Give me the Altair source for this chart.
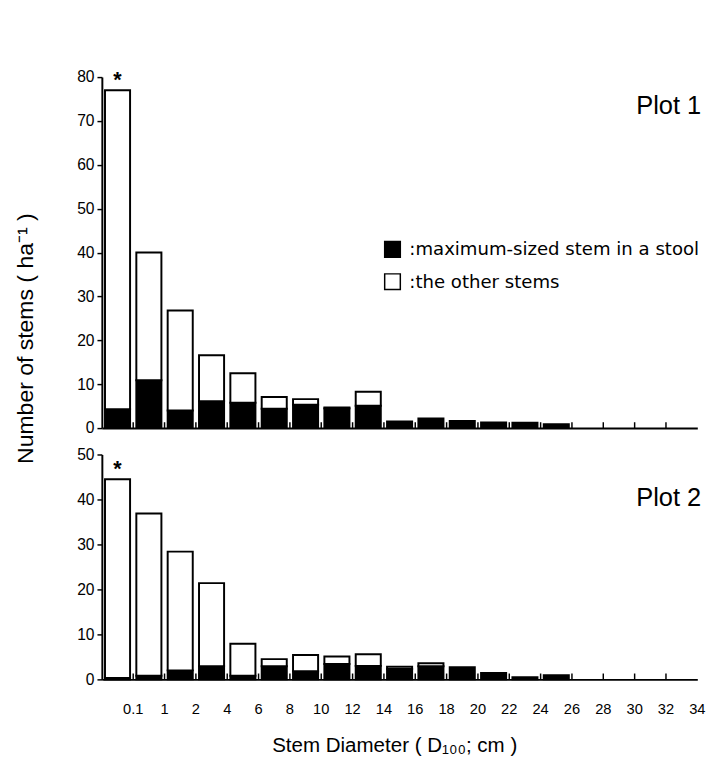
import altair as alt
import pandas as pd

# ---- data ----
class_labels = ["0.1", "1", "2", "4", "6", "8", "10", "12", "14", "16",
                "18", "20", "22", "24", "26", "28", "30", "32", "34"]

p1_black = [4.3, 10.9, 4.0, 6.1, 5.8, 4.4, 5.3, 4.5, 5.1, 1.5,
            2.2, 1.6, 1.3, 1.2, 0.9, 0, 0, 0, 0]
p1_total = [77.0, 40.0, 26.8, 16.6, 12.5, 7.1, 6.6, 4.7, 8.3, 1.5,
            2.2, 1.6, 1.3, 1.2, 0.9, 0, 0, 0, 0]

p2_black = [0.3, 0.8, 2.0, 2.9, 0.8, 2.9, 1.8, 3.4, 3.0, 2.3,
            2.9, 2.7, 1.4, 0.5, 0.9, 0, 0, 0, 0]
p2_total = [44.5, 36.9, 28.4, 21.4, 7.9, 4.5, 5.4, 5.1, 5.6, 2.8,
            3.6, 2.7, 1.4, 0.5, 0.9, 0, 0, 0, 0]

type_names = [":maximum-sized stem in a stool", ":the other stems"]

FONT = "Liberation Sans, Arial, sans-serif"
W = 609
H1 = 359
H2 = 230
N = len(class_labels)


def build_rows(black, total):
    rows = []
    for i, (b, t) in enumerate(zip(black, total)):
        if b > 0:
            rows.append({"x0": i + 0.1, "x1": i + 0.9, "y0": 0, "y1": b,
                         "type": type_names[0]})
        if t - b > 0.05:
            rows.append({"x0": i + 0.1, "x1": i + 0.9, "y0": b, "y1": t,
                         "type": type_names[1]})
    return pd.DataFrame(rows)


bounds_df = pd.DataFrame({"b": list(range(1, N))})
labels_df = pd.DataFrame({"b": list(range(1, N + 1)), "lab": class_labels})


def panel(black, total, ymax, height, plot_name, name_y, show_x, show_legend, ytitle):
    df = build_rows(black, total)
    xscale = alt.Scale(domain=[0, N], nice=False, zero=False)
    yscale = alt.Scale(domain=[0, ymax], nice=False)
    if show_x:
        xaxis = alt.Axis(labels=False, ticks=False, grid=False,
                         domainColor="black", domainWidth=2,
                         title="Stem Diameter ( D\u2081\u2080\u2080; cm )",
                         titleFont=FONT, titleFontSize=21,
                         titleFontWeight="normal", titlePadding=57,
                         titleX=299, titleAlign="center",
                         titleColor="black")
    else:
        xaxis = alt.Axis(labels=False, ticks=False, grid=False, title=None,
                         domainColor="black", domainWidth=2)
    yaxis_kwargs = dict(values=list(range(0, ymax + 1, 10)), grid=False,
                        tickSize=5, tickColor="black", tickWidth=1.5,
                        labelFontSize=16, labelFont=FONT, labelColor="black",
                        labelPadding=3, domainColor="black", domainWidth=2)
    if ytitle:
        yaxis = alt.Axis(title="Number of stems ( ha\u207b\u00b9 )",
                         titleFont=FONT, titleFontSize=23.5,
                         titleFontWeight="normal", titleColor="black",
                         titleX=-78, titleY=267, titleAngle=-90,
                         titleAlign="center", titleBaseline="middle",
                         **yaxis_kwargs)
    else:
        yaxis = alt.Axis(title=None, **yaxis_kwargs)

    if show_legend:
        legend = alt.Legend(orient="none", legendX=288, legendY=167,
                            title=None, symbolType="square", symbolSize=256,
                            symbolStrokeColor="black", symbolStrokeWidth=1.5,
                            labelFont="DejaVu Sans", labelFontSize=18.5,
                            labelColor="black", labelOffset=8, rowPadding=10,
                            padding=0, labelLimit=450)
    else:
        legend = None

    bars = alt.Chart(df).mark_bar(stroke="black", strokeWidth=2).encode(
        x=alt.X("x0:Q", scale=xscale, axis=xaxis),
        x2="x1:Q",
        y=alt.Y("y0:Q", scale=yscale, axis=yaxis),
        y2="y1:Q",
        fill=alt.Fill("type:N", scale=alt.Scale(domain=type_names,
                                                range=["black", "white"]),
                      legend=legend),
    )

    ticks = alt.Chart(bounds_df).mark_rule(color="black", strokeWidth=1.5).encode(
        x="b:Q",
        y=alt.value(height),
        y2=alt.value(height - 6),
    )

    star_df = pd.DataFrame({"xc": [0.5], "yt": [total[0]], "s": ["*"]})
    star = alt.Chart(star_df).mark_text(
        font=FONT, fontSize=22, fontWeight="bold", baseline="bottom", dy=2,
        color="black").encode(
        x="xc:Q",
        y="yt:Q",
        text="s:N",
    )

    name_df = pd.DataFrame({"t": [plot_name]})
    name = alt.Chart(name_df).mark_text(
        font=FONT, fontSize=26, align="right", baseline="middle",
        color="black").encode(
        x=alt.value(W + 4),
        y=alt.value(name_y),
        text="t:N",
    )

    layers = [bars, ticks, star, name]
    if show_x:
        xlabels = alt.Chart(labels_df).mark_text(
            font=FONT, fontSize=15, align="center", baseline="middle",
            color="black").encode(
            x="b:Q",
            y=alt.value(height + 30),
            text="lab:N",
        )
        layers.append(xlabels)

    return alt.layer(*layers).properties(width=W, height=height)


top = panel(p1_black, p1_total, 80, H1, "Plot 1", 30, False, True, True)
bottom = panel(p2_black, p2_total, 50, H2, "Plot 2", 45, True, False, False)

chart = alt.vconcat(top, bottom, spacing=27, bounds="flush").resolve_scale(
    fill="independent"
).properties(
    padding={"top": 54, "left": 6, "right": 5, "bottom": 5}
).configure_view(stroke=None)

chart.save("out.html", embed_options={"renderer": "svg", "actions": False})
